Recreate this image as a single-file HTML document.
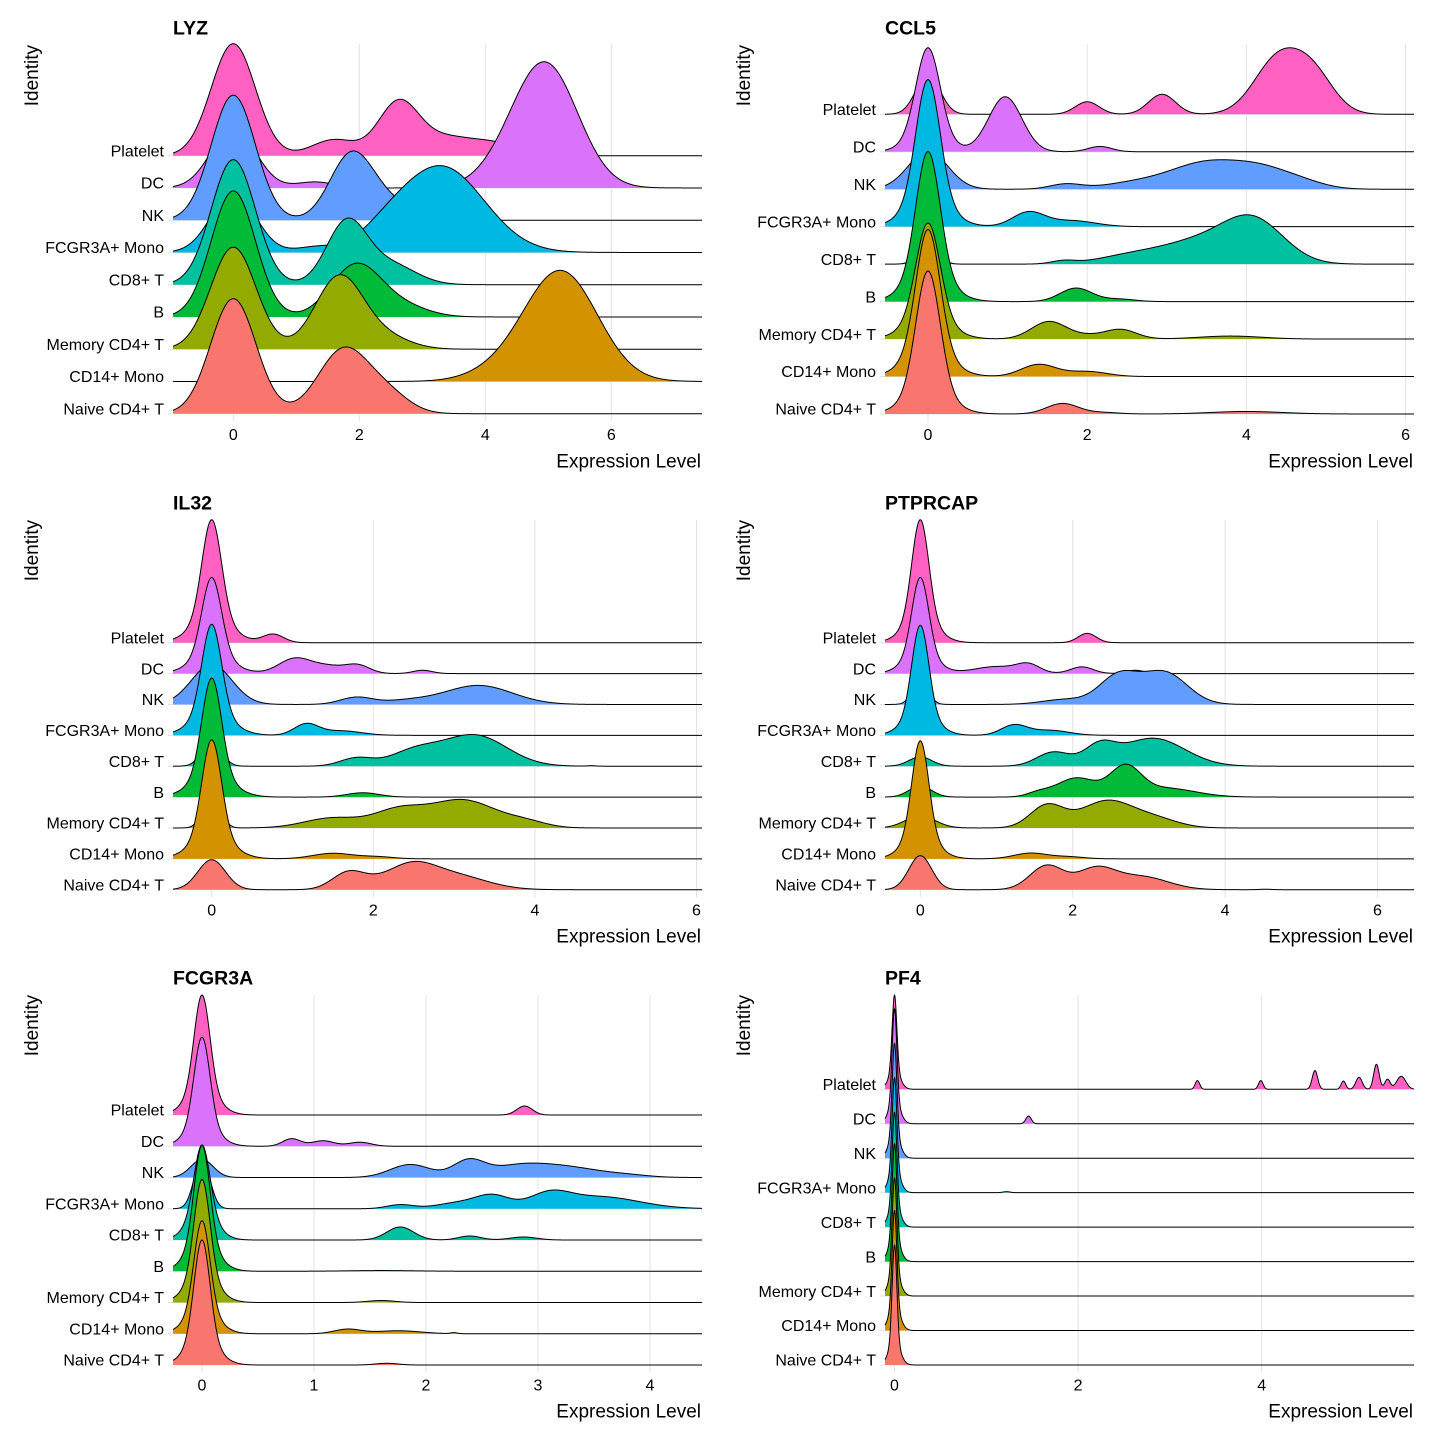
<!DOCTYPE html>
<html><head><meta charset="utf-8">
<style>
html,body{margin:0;padding:0;background:#fff;}
svg{display:block;}
text{font-family:"Liberation Sans",Arial,sans-serif;fill:#000;}
.t{font-size:19.5px;font-weight:bold;}
.yl{font-size:16px;text-anchor:end;}
.xl{font-size:16px;text-anchor:middle;}
.at{font-size:19px;}
.ae{font-size:19px;text-anchor:end;}
</style></head><body>
<svg id="plot" width="1440" height="1440" viewBox="0 0 1440 1440" xmlns="http://www.w3.org/2000/svg">
<rect width="1440" height="1440" fill="#fff"/>
<g id="grid"></g>
<g id="curves"></g>
<g id="texts">
<!-- Panel A: LYZ -->
<text class="t" x="173" y="34.3">LYZ</text>
<text class="at" text-anchor="end" transform="translate(38,45) rotate(-90)">Identity</text>
<text class="yl" x="164" y="156.4">Platelet</text>
<text class="yl" x="164" y="188.7">DC</text>
<text class="yl" x="164" y="220.9">NK</text>
<text class="yl" x="164" y="253.2">FCGR3A+ Mono</text>
<text class="yl" x="164" y="285.4">CD8+ T</text>
<text class="yl" x="164" y="317.7">B</text>
<text class="yl" x="164" y="349.9">Memory CD4+ T</text>
<text class="yl" x="164" y="382.2">CD14+ Mono</text>
<text class="yl" x="164" y="414.4">Naive CD4+ T</text>
<text class="xl" x="233.3" y="440">0</text>
<text class="xl" x="359.3" y="440">2</text>
<text class="xl" x="485.3" y="440">4</text>
<text class="xl" x="611.3" y="440">6</text>
<text class="ae" x="701" y="467.5">Expression Level</text>

<!-- Panel B: CCL5 -->
<text class="t" x="885" y="34.3">CCL5</text>
<text class="at" text-anchor="end" transform="translate(750,45) rotate(-90)">Identity</text>
<text class="yl" x="876" y="115">Platelet</text>
<text class="yl" x="876" y="152.5">DC</text>
<text class="yl" x="876" y="189.9">NK</text>
<text class="yl" x="876" y="227.4">FCGR3A+ Mono</text>
<text class="yl" x="876" y="264.8">CD8+ T</text>
<text class="yl" x="876" y="302.3">B</text>
<text class="yl" x="876" y="339.8">Memory CD4+ T</text>
<text class="yl" x="876" y="377.2">CD14+ Mono</text>
<text class="yl" x="876" y="414.7">Naive CD4+ T</text>
<text class="xl" x="928" y="440">0</text>
<text class="xl" x="1087.2" y="440">2</text>
<text class="xl" x="1246.4" y="440">4</text>
<text class="xl" x="1405.6" y="440">6</text>
<text class="ae" x="1413" y="467.5">Expression Level</text>

<!-- Panel C: IL32 -->
<text class="t" x="173" y="509.3">IL32</text>
<text class="at" text-anchor="end" transform="translate(38,520) rotate(-90)">Identity</text>
<text class="yl" x="164" y="643.4">Platelet</text>
<text class="yl" x="164" y="674.3">DC</text>
<text class="yl" x="164" y="705.2">NK</text>
<text class="yl" x="164" y="736">FCGR3A+ Mono</text>
<text class="yl" x="164" y="766.9">CD8+ T</text>
<text class="yl" x="164" y="797.8">B</text>
<text class="yl" x="164" y="828.7">Memory CD4+ T</text>
<text class="yl" x="164" y="859.5">CD14+ Mono</text>
<text class="yl" x="164" y="890.4">Naive CD4+ T</text>
<text class="xl" x="211.7" y="915.5">0</text>
<text class="xl" x="373.3" y="915.5">2</text>
<text class="xl" x="534.9" y="915.5">4</text>
<text class="xl" x="696.5" y="915.5">6</text>
<text class="ae" x="701" y="942.5">Expression Level</text>

<!-- Panel D: PTPRCAP -->
<text class="t" x="885" y="509.3">PTPRCAP</text>
<text class="at" text-anchor="end" transform="translate(750,520) rotate(-90)">Identity</text>
<text class="yl" x="876" y="643.4">Platelet</text>
<text class="yl" x="876" y="674.3">DC</text>
<text class="yl" x="876" y="705.2">NK</text>
<text class="yl" x="876" y="736">FCGR3A+ Mono</text>
<text class="yl" x="876" y="766.9">CD8+ T</text>
<text class="yl" x="876" y="797.8">B</text>
<text class="yl" x="876" y="828.7">Memory CD4+ T</text>
<text class="yl" x="876" y="859.5">CD14+ Mono</text>
<text class="yl" x="876" y="890.4">Naive CD4+ T</text>
<text class="xl" x="920.3" y="915.5">0</text>
<text class="xl" x="1072.7" y="915.5">2</text>
<text class="xl" x="1225.1" y="915.5">4</text>
<text class="xl" x="1377.5" y="915.5">6</text>
<text class="ae" x="1413" y="942.5">Expression Level</text>

<!-- Panel E: FCGR3A -->
<text class="t" x="173" y="984.3">FCGR3A</text>
<text class="at" text-anchor="end" transform="translate(38,995) rotate(-90)">Identity</text>
<text class="yl" x="164" y="1115.7">Platelet</text>
<text class="yl" x="164" y="1147">DC</text>
<text class="yl" x="164" y="1178.2">NK</text>
<text class="yl" x="164" y="1209.5">FCGR3A+ Mono</text>
<text class="yl" x="164" y="1240.7">CD8+ T</text>
<text class="yl" x="164" y="1272">B</text>
<text class="yl" x="164" y="1303.2">Memory CD4+ T</text>
<text class="yl" x="164" y="1334.5">CD14+ Mono</text>
<text class="yl" x="164" y="1365.7">Naive CD4+ T</text>
<text class="xl" x="202" y="1390.5">0</text>
<text class="xl" x="314" y="1390.5">1</text>
<text class="xl" x="426" y="1390.5">2</text>
<text class="xl" x="538" y="1390.5">3</text>
<text class="xl" x="650" y="1390.5">4</text>
<text class="ae" x="701" y="1417.5">Expression Level</text>

<!-- Panel F: PF4 -->
<text class="t" x="885" y="984.3">PF4</text>
<text class="at" text-anchor="end" transform="translate(750,995) rotate(-90)">Identity</text>
<text class="yl" x="876" y="1090">Platelet</text>
<text class="yl" x="876" y="1124.5">DC</text>
<text class="yl" x="876" y="1158.9">NK</text>
<text class="yl" x="876" y="1193.4">FCGR3A+ Mono</text>
<text class="yl" x="876" y="1227.8">CD8+ T</text>
<text class="yl" x="876" y="1262.3">B</text>
<text class="yl" x="876" y="1296.8">Memory CD4+ T</text>
<text class="yl" x="876" y="1331.2">CD14+ Mono</text>
<text class="yl" x="876" y="1365.7">Naive CD4+ T</text>
<text class="xl" x="894.5" y="1390.5">0</text>
<text class="xl" x="1078.1" y="1390.5">2</text>
<text class="xl" x="1261.7" y="1390.5">4</text>
<text class="ae" x="1413" y="1417.5">Expression Level</text>
</g>
</svg>
<script>
(function(){
var NS='http://www.w3.org/2000/svg';
var gg=document.getElementById('grid'), gc=document.getElementById('curves');
var COL=['#FF61C3','#DB72FB','#619CFF','#00B9E3','#00C19F','#00BA38','#93AA00','#D39200','#F8766D'];
function el(tag,attrs,parent){var e=document.createElementNS(NS,tag);for(var k in attrs)e.setAttribute(k,attrs[k]);parent.appendChild(e);return e;}
function zs(h){return [[0,0.025,0.8*h],[0,0.06,0.2*h]];}
var P=[
{L:173,R:702,x0:233.3,u:63,b0:155.7,sp:32.25,top:44,bot:421,ticks:[0,2,4,6],g:[
 [[0,.35,112],[1.6,.35,16],[2.62,.32,52],[3.4,.45,18],[4.2,.35,10]],
 [[0,.35,60],[1.3,.3,6],[5.0,.5,110],[4.5,.5,25]],
 [[0,.35,125],[1.85,.33,55],[2.3,.45,22]],
 [[0,.35,60],[1.3,.3,5],[2.4,.4,10],[3.3,.68,86]],
 [[0,.35,125],[1.8,.32,62],[2.5,.4,20]],
 [[0,.35,126],[1.95,.4,52],[2.7,.4,10]],
 [[0,.36,102],[1.68,.38,72],[2.4,.4,12]],
 [[5.2,.58,110],[4.2,.5,8]],
 [[0,.36,115],[1.75,.4,64],[2.45,.35,18]]
]},
{L:885,R:1414,x0:928,u:79.6,b0:114.3,sp:37.46,top:44,bot:421,ticks:[0,2,4,6],g:[
 [[0,.15,40],[2.0,.15,12.5],[2.94,.17,20],[4.4,.3,55],[4.85,.26,35]],
 [[0,.15,88],[0,.25,16],[0.97,.21,55],[2.16,.15,5.3]],
 [[0,.25,38],[1.73,.2,5],[2.6,.4,6],[3.5,.45,26],[4.2,.35,16],[4.7,.3,6]],
 [[0,.15,122],[0,.28,25],[1.26,.2,14],[1.8,.3,6]],
 [[0,.12,20],[1.7,.15,3],[2.5,.4,7],[3.4,.5,22],[4.1,.38,40]],
 [[0,.15,125],[0,.28,25],[1.86,.2,13.5],[2.4,.2,2.5]],
 [[0,.15,96],[0,.28,20],[1.52,.22,17.5],[2.0,.2,3],[2.42,.2,9.5],[3.8,.4,3]],
 [[0,.15,122],[0,.28,25],[1.39,.22,12],[2.0,.25,5]],
 [[0,.15,120],[0,.28,23],[1.69,.2,10.5],[2.2,.2,1.5],[4.0,.45,2.5]]
]},
{L:173,R:702,x0:211.7,u:80.8,b0:642.7,sp:30.875,top:520,bot:897,ticks:[0,2,4,6],g:[
 [[0,.12,100],[0,.25,23],[0.76,.13,8.5]],
 [[0,.12,78],[0,.25,18],[1.03,.2,15],[1.45,.2,7],[1.81,.15,8],[2.61,.12,3.3]],
 [[0,.25,40],[1.79,.2,7],[2.4,.3,3.5],[3.3,.42,19]],
 [[0,.12,90],[0,.25,21],[1.17,.15,11],[1.6,.25,4.5]],
 [[0,.12,25],[1.79,.2,8],[2.5,.3,14],[3.25,.4,31],[4.7,.05,.5]],
 [[0,.12,97],[0,.25,22],[1.87,.2,4.3]],
 [[0,.1,40],[1.5,.35,10],[2.3,.3,16],[3.1,.42,28],[3.9,.25,5]],
 [[0,.12,97],[0,.25,22],[1.5,.25,5.5],[2.05,.2,2]],
 [[0,.17,30],[1.69,.2,17],[2.0,.2,3],[2.45,.3,22],[3.0,.4,14]]
]},
{L:885,R:1414,x0:920.3,u:76.2,b0:642.7,sp:30.875,top:520,bot:897,ticks:[0,2,4,6],g:[
 [[0,.11,100],[0,.22,23],[2.19,.12,9.3]],
 [[0,.11,78],[0,.22,18],[1.0,.3,7],[1.42,.15,8],[2.12,.15,6.7],[2.82,.12,3.3]],
 [[0,.1,25],[1.9,.3,5],[2.6,.25,28],[3.2,.3,32]],
 [[0,.11,90],[0,.22,20],[1.23,.17,10],[1.7,.25,5]],
 [[0,.15,9.3],[1.75,.22,14],[2.35,.2,18],[3.05,.42,28]],
 [[0,.15,11],[1.55,.15,4],[2.05,.26,19],[2.69,.2,28],[3.2,.4,9]],
 [[0,.2,12],[1.66,.22,22],[2.45,.35,27],[3.1,.3,8]],
 [[0,.11,96],[0,.22,22],[1.45,.22,5.7],[1.95,.2,2]],
 [[0,.15,34],[1.66,.22,24],[2.3,.25,20],[2.9,.35,13],[4.53,.08,.5]]
]},
{L:173,R:702,x0:202,u:112,b0:1115,sp:31.25,top:995,bot:1372,ticks:[0,1,2,3,4],g:[
 [[0,.07,96],[0,.14,24],[2.88,.07,9]],
 [[0,.07,88],[0,.14,21],[.8,.08,7.5],[1.08,.1,5.5],[1.41,.1,4]],
 [[0,.1,18],[1.86,.18,13],[2.38,.14,16],[2.8,.25,10],[3.25,.3,10],[3.8,.2,2]],
 [[0,.07,50],[1.77,.12,4],[2.3,.2,6],[2.6,.15,12],[3.1,.18,13],[3.55,.35,12]],
 [[0,.07,70],[0,.13,25],[1.77,.12,13],[2.39,.1,4],[2.87,.12,3]],
 [[0,.07,100],[0,.14,26],[1.6,.3,.7]],
 [[0,.07,98],[0,.14,25],[1.6,.12,2]],
 [[0,.07,90],[0,.14,23],[1.3,.12,4.5],[1.75,.2,3],[2.25,.03,1]],
 [[0,.07,100],[0,.14,25],[1.65,.1,1.7]]
]},
{L:885,R:1414,x0:894.5,u:91.8,b0:1089.3,sp:34.46,top:995,bot:1372,ticks:[0,2,4],g:[
 zs(94.3).concat([[3.3,.025,8.7],[3.99,.025,8.7],[4.58,.03,18.7],[4.89,.025,8.3],[5.06,.035,12],[5.25,.03,25],[5.37,.03,10],[5.52,.05,13]]),
 zs(115).concat([[1.46,.03,7.7]]),
 zs(115),
 zs(115).concat([[1.22,.04,1]]),
 zs(115),
 zs(118),
 zs(118),
 zs(120),
 zs(120)
]}
];
for(var i=0;i<P.length;i++){
 var p=P[i];
 for(var j=0;j<p.ticks.length;j++){var x=p.x0+p.ticks[j]*p.u;el('line',{x1:x,x2:x,y1:p.top,y2:p.bot,stroke:'#e3e3e3','stroke-width':1},gg);}
 for(var k=0;k<9;k++){var b=p.b0+k*p.sp;el('line',{x1:p.L-5,x2:p.R,y1:b,y2:b,stroke:'#e3e3e3','stroke-width':1},gg);}
 var step=(i==5)?0.25:0.5;
 for(var k=0;k<9;k++){
  var b=p.b0+k*p.sp, comps=p.g[k], pts=[];
  for(var x=p.L;x<=p.R+0.001;x+=step){
   var v=(x-p.x0)/p.u,h=0;
   for(var c=0;c<comps.length;c++){var d=(v-comps[c][0])/comps[c][1];h+=comps[c][2]*Math.exp(-0.5*d*d);}
   pts.push(x.toFixed(2)+','+(b-h).toFixed(2));
  }
  el('path',{d:'M'+p.L+','+b+'L'+pts.join('L')+'L'+p.R+','+b+'Z',fill:COL[k],stroke:'none'},gc);
  el('path',{d:'M'+pts.join('L'),fill:'none',stroke:'#000','stroke-width':1,'stroke-linejoin':'round'},gc);
 }
}
})();
</script>
</body></html>
